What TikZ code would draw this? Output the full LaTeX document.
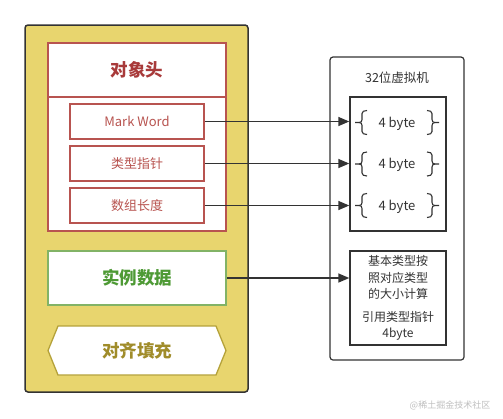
\documentclass[tikz,border=0pt]{standalone}
\usepackage{fontspec}
\setmainfont{Noto Sans CJK SC}
\usetikzlibrary{arrows.meta}
\definecolor{yel}{HTML}{E8D56E}
\definecolor{outc}{HTML}{333333}
\definecolor{redc}{HTML}{B85450}
\definecolor{redt}{HTML}{A83A3A}
\definecolor{grnc}{HTML}{82B366}
\definecolor{grnt}{HTML}{4E9A35}
\definecolor{hexc}{HTML}{B5A23A}
\definecolor{hext}{HTML}{A08C2A}
\definecolor{txt}{HTML}{333333}
\tikzset{
  redbox/.style={draw=redc, fill=white, line width=1.5pt, inner sep=0pt},
  subbox/.style={redbox, minimum width=134, minimum height=35, text=redc, font=\fontsize{13}{15}\selectfont},
  grybox/.style={draw=outc, line width=1.4pt, inner sep=0pt},
  conn/.style={draw=outc, line width=1.4pt, -{Triangle[length=11pt,width=9pt]}},
  brc/.pic={
    \draw[outc, line width=1.1pt] (-4,0) -- (0,0) .. controls (2,0) and (3,-1) .. (3,-3) -- (3,-9) .. controls (3,-11) and (5,-12) .. (8,-12);
    \draw[outc, line width=1.1pt] (0,0) .. controls (2,0) and (3,1) .. (3,3) -- (3,9) .. controls (3,11) and (5,12) .. (8,12);
  },
  btxt/.style={text=txt, font=\fontsize{13}{15}\selectfont, inner sep=0pt}
}
\begin{document}
\begin{tikzpicture}[x=1pt,y=-1pt]
\useasboundingbox (0,0) rectangle (503,418);
\fill[white] (0,0) rectangle (503,418);
% left object
\node[draw=outc, fill=yel, rounded corners=3pt, line width=1.5pt, minimum width=223, minimum height=367, inner sep=0pt] (obj) at (136.5,208.5) {};
\node[redbox, minimum width=178, minimum height=54, text=redt, font=\fontsize{17.5}{19}\selectfont\bfseries] (hdr) at (137,70) {对象头};
\node[redbox, minimum width=178, minimum height=134] (hbody) at (137,164) {};
\node[subbox] (mw) at (137,121.5) {Mark Word};
\node[subbox] (tp) at (137,163.5) {类型指针};
\node[subbox] (al) at (137,205.5) {数组长度};
\node[draw=grnc, fill=white, line width=1.5pt, inner sep=0pt, minimum width=178, minimum height=54, text=grnt, font=\fontsize{17.5}{19}\selectfont\bfseries] (inst) at (137,278) {实例数据};
\fill[white, draw=hexc, line width=1.3pt] (48,350.5) -- (58,326) -- (216,326) -- (226,350.5) -- (216,375) -- (58,375) -- cycle;
\node[text=hext, font=\fontsize{17.5}{19}\selectfont\bfseries] (pad) at (137,350.5) {对齐填充};
% right VM
\node[draw=outc, fill=white, rounded corners=3pt, line width=1.2pt, minimum width=134, minimum height=303, inner sep=0pt] (vm) at (397,208.5) {};
\node[text=txt, font=\fontsize{12.5}{14}\selectfont] (vmt) at (397,78) {32位虚拟机};
\node[grybox, minimum width=96, minimum height=134] (b1) at (398,164) {};
\node[btxt] (s1) at (397,124) {4 byte};
\node[btxt] (s2) at (397,165) {4 byte};
\node[btxt] (s3) at (397,206.5) {4 byte};
\pic at (359,122.5) {brc};
\pic[xscale=-1] at (435,122.5) {brc};
\pic at (359,164) {brc};
\pic[xscale=-1] at (435,164) {brc};
\pic at (359,205.5) {brc};
\pic[xscale=-1] at (435,205.5) {brc};
\node[grybox, minimum width=96, minimum height=94] (b2) at (398,298) {};
\node[text=txt, align=center, font=\fontsize{12}{16.5}\selectfont, inner sep=0pt] (b2t) at (398,298) {基本类型按\\照对应类型\\的大小计算\\[6pt]引用类型指针\\4byte};
% connectors
\draw[conn] (mw.east) -- (mw.east -| b1.west);
\draw[conn] (tp.east) -- (tp.east -| b1.west);
\draw[conn] (al.east) -- (al.east -| b1.west);
\draw[conn] (inst.east) -- (inst.east -| b2.west);
% watermark
\node[text=black!25, font=\fontsize{9}{10}\selectfont] (wm) at (450,405) {@稀土掘金技术社区};
\end{tikzpicture}
\end{document}
